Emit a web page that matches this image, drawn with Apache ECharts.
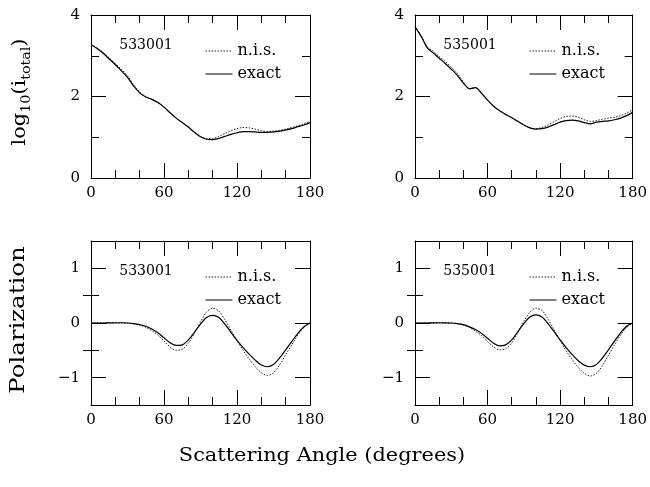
<!DOCTYPE html>
<html><head><meta charset="utf-8">
<script src="https://cdn.jsdelivr.net/npm/echarts@6/dist/echarts.min.js"></script>
<style>html,body{margin:0;padding:0;background:#fff}#c{width:650px;height:487px}</style>
</head><body><div id="c"></div>
<script>
// ---- data ----
const angles = [0,5,10,15,20,25,30,35,40,45,50,55,60,65,70,75,80,85,90,95,100,105,110,115,120,125,130,135,140,145,150,155,160,165,170,175,180];

const logI_533001_exact = [3.27,3.18,3.06,2.92,2.78,2.63,2.47,2.26,2.09,1.99,1.93,1.85,1.74,1.60,1.47,1.36,1.25,1.12,1.01,0.95,0.94,0.97,1.02,1.07,1.11,1.14,1.14,1.13,1.12,1.12,1.13,1.15,1.18,1.21,1.26,1.30,1.36];
const logI_533001_nis   = [3.28,3.19,3.08,2.95,2.81,2.67,2.51,2.29,2.11,2.00,1.93,1.85,1.74,1.60,1.47,1.36,1.25,1.13,1.02,0.97,0.97,1.02,1.09,1.16,1.21,1.24,1.23,1.20,1.16,1.14,1.15,1.17,1.20,1.24,1.28,1.33,1.39];

const logI_535001_exact = [3.71,3.48,3.20,3.07,2.94,2.81,2.67,2.52,2.33,2.19,2.22,2.08,1.91,1.76,1.65,1.56,1.48,1.39,1.30,1.23,1.20,1.21,1.25,1.31,1.37,1.41,1.42,1.40,1.36,1.33,1.37,1.39,1.40,1.43,1.47,1.53,1.61];
const logI_535001_nis   = [3.72,3.50,3.23,3.11,2.98,2.86,2.72,2.57,2.36,2.18,2.22,2.08,1.91,1.76,1.65,1.56,1.48,1.39,1.30,1.23,1.21,1.24,1.30,1.38,1.46,1.51,1.52,1.49,1.43,1.39,1.41,1.44,1.47,1.49,1.53,1.59,1.67];

const pol_533001_exact = [0,0,0,0.003,0.005,0.005,0,-0.01,-0.03,-0.06,-0.11,-0.18,-0.27,-0.36,-0.41,-0.40,-0.31,-0.17,-0.02,0.10,0.14,0.10,-0.02,-0.17,-0.32,-0.45,-0.57,-0.68,-0.77,-0.80,-0.76,-0.64,-0.49,-0.34,-0.19,-0.07,0];
const pol_533001_nis   = [0,0,0,0,0,0,-0.005,-0.015,-0.04,-0.08,-0.14,-0.22,-0.33,-0.44,-0.50,-0.48,-0.37,-0.19,0.02,0.20,0.27,0.22,0.06,-0.13,-0.32,-0.50,-0.66,-0.80,-0.91,-0.96,-0.91,-0.77,-0.58,-0.40,-0.22,-0.08,0];

const pol_535001_exact = [0,0,0,0.003,0.005,0.004,0,-0.01,-0.03,-0.07,-0.12,-0.19,-0.28,-0.37,-0.42,-0.40,-0.31,-0.16,-0.01,0.11,0.15,0.11,-0.01,-0.16,-0.31,-0.45,-0.58,-0.69,-0.77,-0.80,-0.76,-0.64,-0.49,-0.33,-0.18,-0.06,0];
const pol_535001_nis   = [0,0,0,0,0,0,-0.005,-0.015,-0.04,-0.08,-0.15,-0.23,-0.34,-0.44,-0.49,-0.47,-0.36,-0.18,0.03,0.20,0.27,0.23,0.07,-0.12,-0.32,-0.51,-0.67,-0.81,-0.92,-0.97,-0.92,-0.78,-0.59,-0.40,-0.22,-0.08,0];

const panelLabels = ['533001','535001','533001','535001'];
const seriesNames = ['n.i.s.','exact'];
const polMajorTicks = [-1,0,1];
const polMinorTicks = [-0.5,0.5];

// ---- chart ----
const FONT = 'DejaVu Serif';
const BLACK = '#000';
const chart = echarts.init(document.getElementById('c'), null, {renderer:'canvas'});

const grids = [
  {left:91, top:15, width:219, height:163},
  {left:415, top:15, width:219, height:163},
  {left:91, top:241, width:219, height:164},
  {left:415, top:241, width:219, height:164}
];
const panelData = [
  [logI_533001_nis, logI_533001_exact],
  [logI_535001_nis, logI_535001_exact],
  [pol_533001_nis, pol_533001_exact],
  [pol_535001_nis, pol_535001_exact]
];
const minusFmt = v => String(v).replace('-', '\u2212');

const xAxes = [], yAxes = [], series = [], legends = [], graphics = [];
grids.forEach((g, i) => {
  ['bottom','top'].forEach(pos => {
    xAxes.push({
      type:'value', gridIndex:i, position:pos, min:0, max:180, interval:60,
      axisLine:{show:true, onZero:false, lineStyle:{color:BLACK, width:1}},
      axisTick:{show:true, inside:true, length:15, lineStyle:{color:BLACK, width:1}},
      minorTick:{show:true, splitNumber:3, length:8, lineStyle:{color:BLACK, width:1}},
      axisLabel:{show:pos==='bottom', margin:8, fontFamily:FONT, fontSize:15, color:BLACK},
      splitLine:{show:false}, minorSplitLine:{show:false}
    });
  });
  const isPol = i >= 2;
  let mainY = yAxes.length;
  ['left','right'].forEach(pos => {
    if (!isPol) {
      yAxes.push({
        type:'value', gridIndex:i, position:pos, min:0, max:4, interval:2,
        axisLine:{show:true, onZero:false, lineStyle:{color:BLACK, width:1}},
        axisTick:{show:true, inside:true, length:15, lineStyle:{color:BLACK, width:1}},
        minorTick:{show:true, splitNumber:2, length:8, lineStyle:{color:BLACK, width:1}},
        axisLabel:{show:pos==='left', margin:11, fontFamily:FONT, fontSize:15, color:BLACK},
        splitLine:{show:false}, minorSplitLine:{show:false}
      });
    } else {
      yAxes.push({
        type:'value', gridIndex:i, position:pos, min:-1.5, max:1.5, interval:0.5,
        axisLine:{show:true, onZero:false, lineStyle:{color:BLACK, width:1}},
        axisTick:{show:true, inside:true, length:15, customValues:polMajorTicks, lineStyle:{color:BLACK, width:1}},
        axisLabel:{show:pos==='left', margin:11, fontFamily:FONT, fontSize:15, color:BLACK, customValues:polMajorTicks, formatter:minusFmt},
        splitLine:{show:false}
      });
      yAxes.push({
        type:'value', gridIndex:i, position:pos, min:-1.5, max:1.5, interval:0.5,
        axisLine:{show:false},
        axisTick:{show:true, inside:true, length:8, customValues:polMinorTicks, lineStyle:{color:BLACK, width:1}},
        axisLabel:{show:false},
        splitLine:{show:false}
      });
    }
  });
  panelData[i].forEach((arr, k) => {
    series.push({
      type:'line', name:seriesNames[k], xAxisIndex:2*i, yAxisIndex:mainY,
      data: angles.map((a, j) => [a, arr[j]]),
      showSymbol:false, symbol:'none', smooth:0.3, silent:true, animation:false,
      lineStyle: k === 0 ? {color:'#222', width:1, type:[1.5,1.5]} : {color:BLACK, width:1.2, type:'solid'},
      itemStyle:{color: k === 0 ? '#222' : BLACK}
    });
  });
  legends.push({
    orient:'vertical', left: g.left + 109, top: g.top + 23,
    itemWidth:27, itemHeight:10, itemGap:7, selectedMode:false,
    itemStyle:{opacity:0},
    lineStyle:{width:1},
    textStyle:{fontFamily:FONT, fontSize:16, color:BLACK},
    data: seriesNames.slice()
  });
  graphics.push({
    type:'text', x: g.left + 55, y: g.top + 30,
    style:{text:panelLabels[i], fontFamily:FONT, fontSize:14, fill:BLACK, align:'center', verticalAlign:'middle'}
  });
});

graphics.push({
  type:'text', x:20, y:92, rotation:Math.PI/2, scaleX:1.1, scaleY:1,
  style:{
    text:'{m|log}{s|10}{m|(i}{s|total}{m|)}', align:'center', verticalAlign:'middle', fill:BLACK,
    rich:{
      m:{fontFamily:FONT, fontSize:19, lineHeight:26, verticalAlign:'middle', fill:BLACK},
      s:{fontFamily:FONT, fontSize:13, lineHeight:14, verticalAlign:'bottom', fill:BLACK}
    }
  }
});
graphics.push({
  type:'text', x:19, y:320, rotation:Math.PI/2, scaleX:1.22, scaleY:1,
  style:{text:'Polarization', fontFamily:FONT, fontSize:20, fill:BLACK, align:'center', verticalAlign:'middle'}
});
graphics.push({
  type:'text', x:322, y:456, scaleX:1.1, scaleY:1,
  style:{text:'Scattering Angle (degrees)', fontFamily:FONT, fontSize:19, fill:BLACK, align:'center', verticalAlign:'middle'}
});

chart.setOption({
  backgroundColor:'#fff',
  animation:false,
  grid: grids,
  xAxis: xAxes,
  yAxis: yAxes,
  series: series,
  legend: legends,
  graphic: graphics
});
</script>
</body></html>
